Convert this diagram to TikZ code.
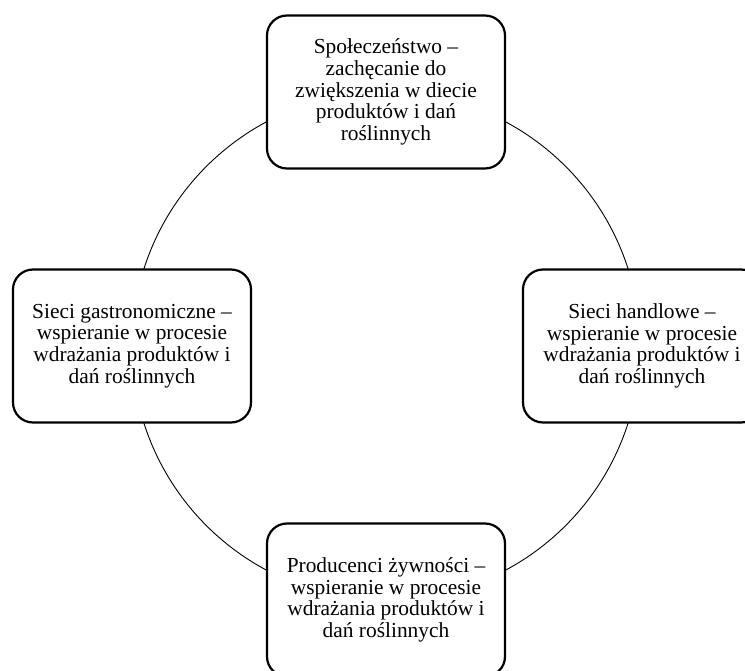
\documentclass[tikz,border=0pt]{standalone}
\usepackage{fontspec}
\setmainfont{Liberation Serif}

\begin{document}
\begin{tikzpicture}[
  x=1pt, y=1pt,
  box/.style = {draw, line width=2.2pt, rounded corners=20pt, fill=white,
    minimum width=238pt, minimum height=153pt, align=center,
    font=\fontsize{21.4}{21.6}\selectfont},
  ring/.style = {line width=0.9pt}
]
  \useasboundingbox (0,0) rectangle (745,670);

  % centre of the ring
  \coordinate (centre) at (386,324);
  \draw[ring] (centre) circle (254pt);

  % ======================================================
  % four partners round the ring
  % ======================================================
  \node[box] (spoleczenstwo) at ([yshift=254pt]centre) {
    Społeczeństwo –\\
    zachęcanie do\\
    zwiększenia w diecie\\
    produktów i dań\\
    roślinnych
  };

  \node[box] (gastronomia) at ([xshift=-254pt]centre) {
    Sieci gastronomiczne –\\
    wspieranie w procesie\\
    wdrażania produktów i\\
    dań roślinnych
  };

  \node[box] (handel) at ([xshift=256pt]centre) {
    Sieci handlowe –\\
    wspieranie w procesie\\
    wdrażania produktów i\\
    dań roślinnych
  };

  \node[box] (producenci) at ([yshift=-254pt]centre) {
    Producenci żywności –\\
    wspieranie w procesie\\
    wdrażania produktów i\\
    dań roślinnych
  };

\end{tikzpicture}
\end{document}
